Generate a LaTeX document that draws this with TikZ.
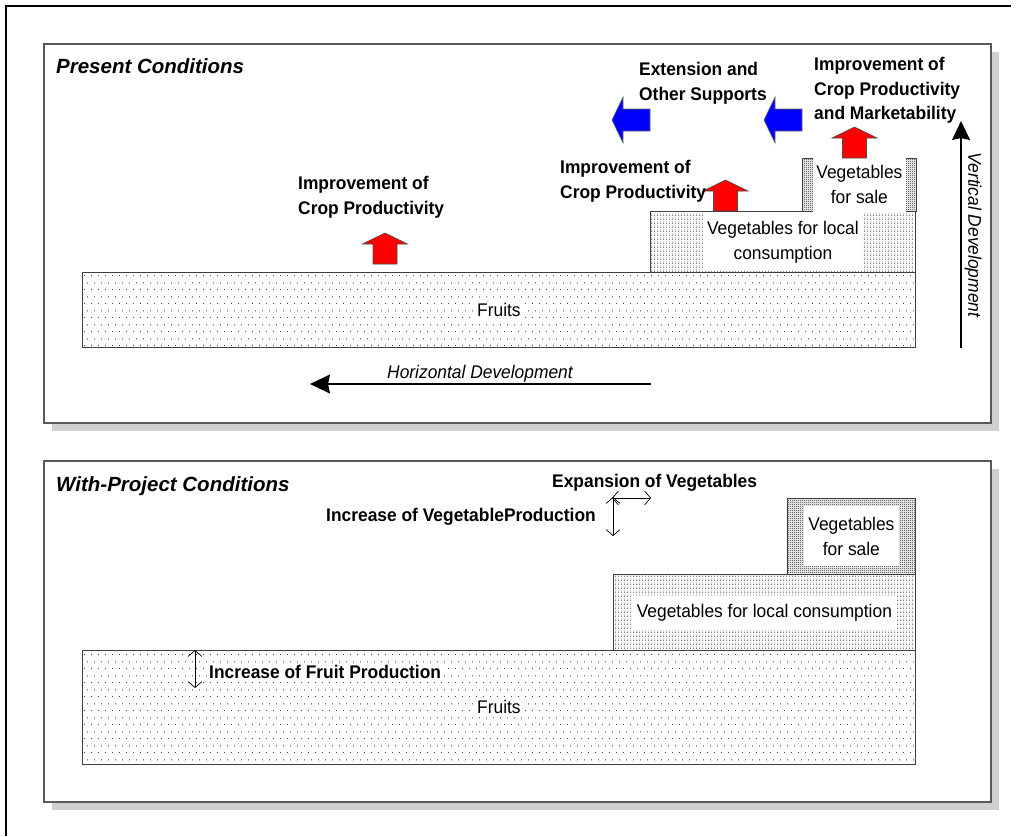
\documentclass[tikz,border=0pt]{standalone}
\usepackage{fontspec}
\setmainfont{Liberation Sans}
\newfontfamily\narrowsans{Liberation Sans}[FakeStretch=0.95]
\usetikzlibrary{arrows.meta,patterns}

% sparse staggered dots for the fruit areas
\pgfdeclarepatternformonly{fruitdots}{\pgfpointorigin}{\pgfpoint{7pt}{14pt}}{\pgfpoint{7pt}{14pt}}{%
  \pgfpathrectangle{\pgfpoint{0pt}{0pt}}{\pgfpoint{1pt}{1pt}}%
  \pgfpathrectangle{\pgfpoint{3.5pt}{7pt}}{\pgfpoint{1pt}{1pt}}%
  \pgfusepath{fill}}
% rows of short dashes for vegetables grown for local use
\pgfdeclarepatternformonly{localdash}{\pgfpointorigin}{\pgfpoint{3pt}{4pt}}{\pgfpoint{3pt}{4pt}}{%
  \pgfpathrectangle{\pgfpoint{0pt}{0pt}}{\pgfpoint{1.6pt}{0.9pt}}%
  \pgfpathrectangle{\pgfpoint{0.5pt}{2pt}}{\pgfpoint{0.9pt}{0.9pt}}%
  \pgfusepath{fill}}
% fine checker for vegetables grown for sale
\pgfdeclarepatternformonly{salegrid}{\pgfpointorigin}{\pgfpoint{2pt}{2pt}}{\pgfpoint{2pt}{2pt}}{%
  \pgfpathrectangle{\pgfpoint{0pt}{0pt}}{\pgfpoint{1pt}{1pt}}%
  \pgfpathrectangle{\pgfpoint{1pt}{1pt}}{\pgfpoint{1pt}{1pt}}%
  \pgfusepath{fill}}

\tikzset{
  panel/.style={draw=black!65, line width=1.5pt, fill=white},
  panelshadow/.style={fill=black!19, draw=none},
  title/.style={font=\bfseries\itshape\fontsize{20.5}{24}\selectfont, anchor=base west, inner sep=0},
  lbl/.style={font=\narrowsans\bfseries\fontsize{18.3}{24.5}\selectfont, align=left, anchor=north west, inner sep=0},
  lblbase/.style={font=\narrowsans\bfseries\fontsize{18.3}{24.5}\selectfont, anchor=base west, inner sep=0},
  devtext/.style={font=\narrowsans\itshape\fontsize{18.3}{24.5}\selectfont, inner sep=0},
  boxtext/.style={font=\narrowsans\fontsize{18.3}{25}\selectfont, align=center, fill=white, inner sep=2pt},
  area/.style={draw=black!75, line width=0.8pt, anchor=north west, inner sep=0, pattern color=black!75},
  fruitarea/.style={area, pattern=fruitdots},
  localarea/.style={area, pattern=localdash},
  salearea/.style={area, pattern=salegrid, pattern color=black!90},
  devarrow/.style={line width=1.4pt, -{Stealth[length=20pt,width=19pt,inset=2pt]}},
  dbl/.style={line width=0.7pt, {Straight Barb[length=6pt,width=14pt]}-{Straight Barb[length=6pt,width=14pt]}},
  redup/.pic={\draw[fill=red, draw=black!70, line width=0.6pt]
      (-12,0) -- (-12,-20) -- (-22.5,-20) -- (0,-31) -- (22.5,-20) -- (12,-20) -- (12,0) -- cycle;},
  blueleft/.pic={\draw[fill=blue, draw=black!60, line width=0.6pt]
      (0,-11) -- (-27,-11) -- (-27,-23) -- (-38,0) -- (-27,23) -- (-27,11) -- (0,11) -- cycle;}
}

\begin{document}
\begin{tikzpicture}[x=1pt, y=-1pt]
\useasboundingbox (0,0) rectangle (1016,836);

% outer frame
\draw[line width=1.3pt] (6,836) -- (6,6) -- (1011,6);

% ---------- present conditions ----------
\fill[panelshadow] (52,52) rectangle (999,431);
\draw[panel] (44,44) rectangle (991,423);
\node[title] (titleA) at (56,73) {Present Conditions};

\node[fruitarea, minimum width=833, minimum height=75] (fruitsA) at (82,272) {};
\node[boxtext] (fruitsAtext) at (fruitsA.center) {Fruits};

\node[localarea, minimum width=265, minimum height=61] (localA) at (650,211) {};
\node[boxtext, minimum width=159, minimum height=59, inner sep=0] (localAtext) at (localA.center) {Vegetables for local\\consumption};

\node[salearea, minimum width=114, minimum height=53] (saleA) at (802,158) {};
\node[boxtext, minimum width=93, minimum height=53.5, inner sep=0] (saleAtext) at (saleA.center) {Vegetables\\for sale};

\pic at (385,264) {redup};
\pic at (725.5,211) {redup};
\pic at (854.5,158) {redup};
\pic at (650,120) {blueleft};
\pic at (802,120) {blueleft};

\node[lbl] (cropA) at (298,176.5) {Improvement of\\Crop Productivity};
\node[lbl] (cropB) at (560,160.5) {Improvement of\\Crop Productivity};
\node[lbl] (cropC) at (814,57.5) {Improvement of\\Crop Productivity\\and Marketability};
\node[lbl] (support) at (639,62.5) {Extension and\\Other Supports};

\coordinate (hStart) at (651,384);
\coordinate (hEnd) at (310,384);
\draw[devarrow] (hStart) -- (hEnd);
\node[devtext, anchor=base] (hText) at (480,378) {Horizontal Development};

\coordinate (vStart) at (961,348);
\coordinate (vEnd) at (961,121);
\draw[line width=1.4pt, -{Stealth[length=19pt,width=18pt,inset=2pt]}] (vStart) -- (vEnd);
\node[devtext, rotate=-90] (vText) at (973,235) {Vertical Development};

% ---------- with-project conditions ----------
\fill[panelshadow] (52,469) rectangle (999,810);
\draw[panel] (44,461) rectangle (991,802);
\node[title] (titleB) at (56,491) {With-Project Conditions};

\node[fruitarea, minimum width=833, minimum height=114] (fruitsB) at (82,650) {};
\node[boxtext] (fruitsBtext) at (fruitsB.center) {Fruits};

\node[localarea, minimum width=302, minimum height=76] (localB) at (613,574) {};
\node[boxtext, minimum width=265, minimum height=33, inner sep=0] (localBtext) at (localB.center) {Vegetables for local consumption};

\node[salearea, minimum width=128, minimum height=76] (saleB) at (787,498) {};
\node[boxtext, minimum width=95, minimum height=60, inner sep=0] (saleBtext) at (saleB.center) {Vegetables\\for sale};

\node[lblbase] (expand) at (552,487) {Expansion of Vegetables};
\node[lblbase] (vegInc) at (326,521) {Increase of VegetableProduction};
\node[lblbase, fill=white, inner sep=1pt] (fruitInc) at (208,678) {Increase of Fruit Production};

\coordinate (expL) at (612,498);
\coordinate (expR) at (651,498);
\coordinate (vegT) at (613,497);
\coordinate (vegB) at (613,536);
\coordinate (fruT) at (195,650);
\coordinate (fruB) at (195,688);
\draw[dbl] (expL) -- (expR);
\draw[dbl] (vegT) -- (vegB);
\draw[dbl] (fruT) -- (fruB);
\end{tikzpicture}
\end{document}
